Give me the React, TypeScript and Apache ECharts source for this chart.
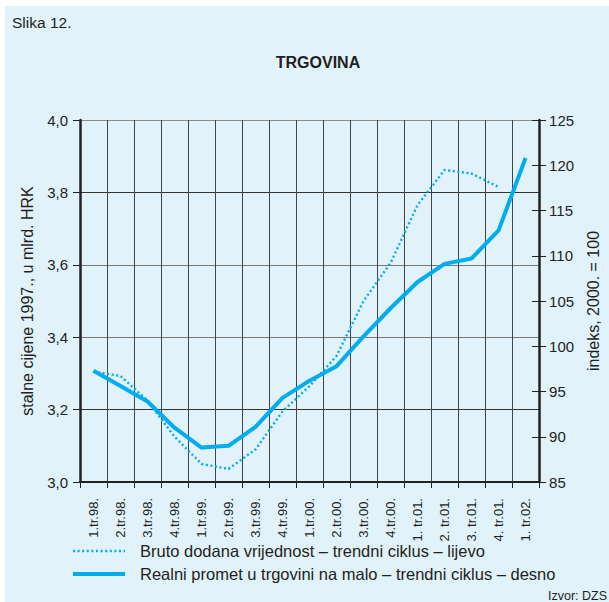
import React, { useEffect, useRef } from "react";
import * as echarts from "echarts";

const categories = [
  "1.tr.98.", "2.tr.98.", "3.tr.98.", "4.tr.98.",
  "1.tr.99.", "2.tr.99.", "3.tr.99.", "4.tr.99.",
  "1.tr.00.", "2.tr.00.", "3.tr.00.", "4.tr.00.",
  "1. tr.01.", "2. tr.01.", "3. tr.01.", "4. tr.01.",
  "1. tr.02.",
];

// left axis (mlrd. HRK)
const brutoValues = [
  3.305, 3.293, 3.225, 3.125, 3.05, 3.036, 3.09, 3.195, 3.265,
  3.348, 3.5, 3.605, 3.765, 3.862, 3.852, 3.815, null,
];

// right axis (indeks, 2000. = 100)
const realniValues = [
  97.3, 95.6, 93.9, 91.0, 88.8, 89.0, 91.1, 94.3, 96.2, 97.8,
  101.1, 104.2, 107.1, 109.1, 109.7, 112.8, 120.8,
];

const leftTicks = { min: 3.0, max: 4.0, interval: 0.2 };
const rightTicks = { min: 85, max: 125, interval: 5 };

const seriesNames = [
  "Bruto dodana vrijednost – trendni ciklus – lijevo",
  "Realni promet u trgovini na malo – trendni ciklus – desno",
];

const FONT = "Liberation Sans, Arial, sans-serif";
const CYAN = "#00aeef";
const TXT = "#231f20";
const DOT = [2, 2.6];

export default function App() {
  const ref = useRef<HTMLDivElement>(null);
  useEffect(() => {
    if (!ref.current) return;
    const chart = echarts.init(ref.current, null, { renderer: "svg" });
    chart.setOption({
      animation: false,
      backgroundColor: "transparent",
      textStyle: { fontFamily: FONT, color: TXT },
      title: {
        text: "TRGOVINA",
        left: 313,
        textAlign: "center",
        top: 49,
        textStyle: { fontSize: 16, fontWeight: "bold", color: TXT, fontFamily: FONT },
      },
      graphic: [
        {
          type: "text",
          left: 12,
          top: 14,
          style: { text: "Slika 12.", fontSize: 15.5, fill: TXT, fontFamily: FONT },
        },
        {
          type: "text",
          right: 2,
          top: 589,
          style: { text: "Izvor: DZS", fontSize: 12.5, fill: TXT, fontFamily: FONT },
        },
        {
          type: "line",
          shape: { x1: 73, y1: 551, x2: 125, y2: 551 },
          style: { stroke: CYAN, lineWidth: 2.4, lineDash: DOT },
        },
        {
          type: "text",
          x: 140,
          y: 551,
          style: {
            text: seriesNames[0],
            fontSize: 16.5,
            fill: TXT,
            fontFamily: FONT,
            verticalAlign: "middle",
          },
        },
        {
          type: "line",
          shape: { x1: 73, y1: 574, x2: 125, y2: 574 },
          style: { stroke: CYAN, lineWidth: 4 },
        },
        {
          type: "text",
          x: 140,
          y: 574,
          style: {
            text: seriesNames[1],
            fontSize: 16.5,
            fill: TXT,
            fontFamily: FONT,
            verticalAlign: "middle",
          },
        },
      ],
      grid: { left: 80, right: 56, top: 120, bottom: 120, containLabel: false },
      xAxis: {
        type: "category",
        data: categories,
        boundaryGap: true,
        axisLine: { lineStyle: { color: "#222", width: 2 } },
        axisTick: { show: true, interval: 0, length: 6, lineStyle: { color: "#222", width: 1 } },
        axisLabel: { interval: 0, rotate: 90, margin: 16, fontSize: 13, color: TXT, fontFamily: FONT },
        splitLine: { show: true, interval: 0, lineStyle: { color: "#444", width: 1 } },
      },
      yAxis: [
        {
          type: "value",
          position: "left",
          min: leftTicks.min,
          max: leftTicks.max,
          interval: leftTicks.interval,
          name: "stalne cijene 1997., u mlrd. HRK",
          nameLocation: "middle",
          nameGap: 45,
          nameTextStyle: { fontSize: 16, color: TXT, fontFamily: FONT },
          axisLine: { show: true, lineStyle: { color: "#222", width: 2.5 } },
          axisTick: { show: true, length: 7, lineStyle: { color: "#222" } },
          axisLabel: {
            margin: 12,
            fontSize: 15,
            color: TXT,
            fontFamily: FONT,
            formatter: (v: number) => v.toFixed(1).replace(".", ","),
          },
          splitLine: {
            show: true,
            lineStyle: { color: ["#888", "#333", "#777", "#777", "#333", "#8a8a8a"], width: 1.2 },
          },
        },
        {
          type: "value",
          position: "right",
          min: rightTicks.min,
          max: rightTicks.max,
          interval: rightTicks.interval,
          name: "indeks, 2000. = 100",
          nameLocation: "middle",
          nameGap: 45,
          nameTextStyle: { fontSize: 16, color: TXT, fontFamily: FONT },
          axisLine: { show: true, lineStyle: { color: "#222", width: 2.5 } },
          axisTick: { show: true, length: 7, lineStyle: { color: "#222" } },
          axisLabel: { margin: 10, fontSize: 15, color: TXT, fontFamily: FONT },
          splitLine: { show: false },
        },
        {
          type: "value",
          position: "right",
          min: rightTicks.min,
          max: rightTicks.max,
          interval: rightTicks.interval,
          axisLine: { show: false },
          axisTick: { show: true, inside: true, length: 7, lineStyle: { color: "#222" } },
          axisLabel: { show: false },
          splitLine: { show: false },
        },
      ],
      series: [
        {
          name: seriesNames[0],
          type: "line",
          yAxisIndex: 0,
          data: brutoValues,
          symbol: "none",
          smooth: false,
          connectNulls: false,
          lineStyle: { color: CYAN, width: 2.4, type: DOT },
          itemStyle: { color: CYAN },
          z: 3,
        },
        {
          name: seriesNames[1],
          type: "line",
          yAxisIndex: 1,
          data: realniValues,
          symbol: "none",
          smooth: false,
          lineStyle: { color: CYAN, width: 4 },
          itemStyle: { color: CYAN },
          z: 4,
        },
      ],
    });
    return () => chart.dispose();
  }, []);

  return (
    <div style={{ position: "absolute", left: 0, top: 0, width: 609, height: 602, background: "#fff", overflow: "hidden" }}>
      <div style={{ position: "absolute", left: 5, top: 6, right: 0, bottom: 0, background: "#e1f2fb" }} />
      <div ref={ref} style={{ position: "absolute", left: 0, top: 0, width: 609, height: 602 }} />
    </div>
  );
}
